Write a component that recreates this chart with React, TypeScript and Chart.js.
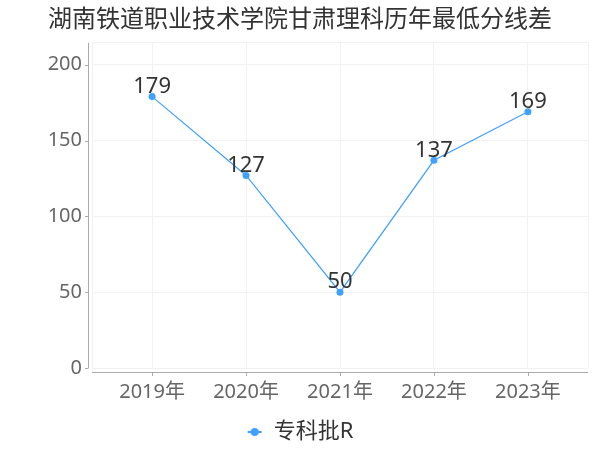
import React, { useEffect, useRef } from "react";
import { Chart, registerables } from "chart.js";

Chart.register(...registerables);

const chartTitle = "湖南铁道职业技术学院甘肃理科历年最低分线差";
const years = ["2019年", "2020年", "2021年", "2022年", "2023年"];
const seriesName = "专科批R";
const values = [179, 127, 50, 137, 169];
const yTickValues = [0, 50, 100, 150, 200];
const yMax = 214.5;
const xMin = -0.64;
const xMax = 4.64;

const FONT = "'Noto Sans', 'Noto Sans CJK SC', sans-serif";
const BLUE = "#3fa0ff";
const AXIS = "#aaaaaa";
const GRID = "#f2f2f2";

function makeLegendMarker(): HTMLCanvasElement {
  const c = document.createElement("canvas");
  c.width = 16;
  c.height = 10;
  const ctx = c.getContext("2d")!;
  ctx.strokeStyle = BLUE;
  ctx.lineWidth = 2;
  ctx.beginPath();
  ctx.moveTo(1, 5);
  ctx.lineTo(15, 5);
  ctx.stroke();
  ctx.fillStyle = BLUE;
  ctx.beginPath();
  ctx.arc(8, 5, 4, 0, Math.PI * 2);
  ctx.fill();
  return c;
}

const axesPlugin = {
  id: "offsetAxes",
  beforeDatasetsDraw(chart: any) {
    const { ctx, chartArea } = chart;
    const xs = chart.scales.x;
    const ys = chart.scales.y;
    ctx.save();
    ctx.strokeStyle = AXIS;
    ctx.lineWidth = 1;
    ctx.beginPath();
    ctx.moveTo(chartArea.left - 3.5, chartArea.top);
    ctx.lineTo(chartArea.left - 3.5, chartArea.bottom);
    yTickValues.forEach((v) => {
      const py = Math.round(ys.getPixelForValue(v)) + 0.5;
      ctx.moveTo(chartArea.left - 7, py);
      ctx.lineTo(chartArea.left - 3.5, py);
    });
    ctx.moveTo(chartArea.left, chartArea.bottom + 4.5);
    ctx.lineTo(chartArea.right, chartArea.bottom + 4.5);
    years.forEach((_, i) => {
      const px = Math.round(xs.getPixelForValue(i)) + 0.5;
      ctx.moveTo(px, chartArea.bottom + 4.5);
      ctx.lineTo(px, chartArea.bottom + 8);
    });
    ctx.stroke();
    ctx.restore();
  },
};

const valueLabelPlugin = {
  id: "valueLabels",
  afterDatasetsDraw(chart: any) {
    const { ctx } = chart;
    const meta = chart.getDatasetMeta(0);
    ctx.save();
    ctx.font = `22px ${FONT}`;
    ctx.fillStyle = "#333333";
    ctx.textAlign = "center";
    ctx.textBaseline = "bottom";
    meta.data.forEach((pt: any, i: number) => {
      ctx.fillText(String(values[i]), pt.x, pt.y + 1);
    });
    ctx.restore();
  },
};

export default function App() {
  const canvasRef = useRef<HTMLCanvasElement | null>(null);

  useEffect(() => {
    const canvas = canvasRef.current;
    if (!canvas) return;
    const marker = makeLegendMarker();
    const chart = new Chart(canvas, {
      type: "line",
      data: {
        datasets: [
          {
            label: seriesName,
            data: values.map((v, i) => ({ x: i, y: v })),
            borderColor: BLUE,
            backgroundColor: BLUE,
            borderWidth: 1.2,
            pointRadius: 3.5,
            pointHoverRadius: 3.5,
            pointBackgroundColor: BLUE,
            pointBorderWidth: 0,
            tension: 0,
          },
        ],
      },
      options: {
        animation: false,
        responsive: false,
        maintainAspectRatio: false,
        layout: { padding: { left: 12, right: 12, top: 0, bottom: -3 } },
        scales: {
          x: {
            type: "linear",
            min: xMin,
            max: xMax,
            afterBuildTicks: (scale: any) => {
              scale.ticks = [xMin, ...years.map((_, i) => i), xMax].map((v) => ({ value: v }));
            },
            afterFit: (scale: any) => {
              scale.height = 45;
            },
            grid: { color: GRID, drawTicks: false, lineWidth: 1 },
            border: { display: false },
            ticks: {
              padding: 12,
              color: "#666666",
              font: { family: FONT, size: 20 },
              autoSkip: false,
              maxRotation: 0,
              callback: (v: any) => {
                const idx = Number(v);
                return Number.isInteger(idx) && years[idx] ? years[idx] : "";
              },
            },
          },
          y: {
            type: "linear",
            min: 0,
            max: yMax,
            afterBuildTicks: (scale: any) => {
              scale.ticks = [...yTickValues, yMax].map((v) => ({ value: v }));
            },
            afterFit: (scale: any) => {
              scale.width = 80;
            },
            grid: { color: GRID, drawTicks: false, lineWidth: 1 },
            border: { display: false },
            ticks: {
              padding: 10,
              color: "#666666",
              font: { family: FONT, size: 20 },
              callback: (v: any) => (yTickValues.includes(Number(v)) ? String(v) : ""),
            },
          },
        },
        plugins: {
          title: {
            display: true,
            text: chartTitle,
            color: "#333333",
            font: { family: FONT, size: 24, weight: "normal" },
            padding: { top: 6, bottom: 8 },
          },
          legend: {
            display: true,
            position: "bottom",
            labels: {
              color: "#333333",
              font: { family: FONT, size: 22 },
              usePointStyle: true,
              pointStyleWidth: 16,
              boxWidth: 16,
              padding: 8,
              generateLabels: (ch: any) => {
                const items = Chart.defaults.plugins.legend.labels.generateLabels(ch);
                return items.map((it: any) => ({ ...it, pointStyle: marker }));
              },
            },
          },
          tooltip: { enabled: false },
        },
      },
      plugins: [axesPlugin, valueLabelPlugin],
    });
    return () => chart.destroy();
  }, []);

  return (
    <div style={{ position: "fixed", left: 0, top: 0, width: 600, height: 450, background: "#ffffff" }}>
      <canvas ref={canvasRef} width={600} height={450} style={{ width: 600, height: 450 }} />
    </div>
  );
}
